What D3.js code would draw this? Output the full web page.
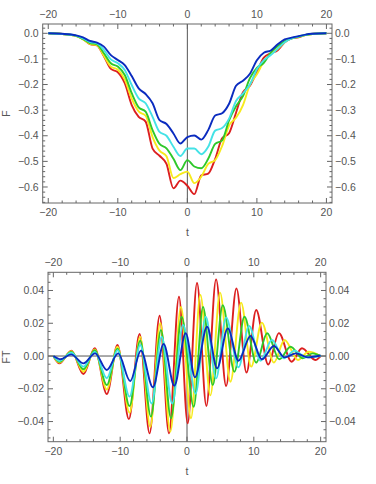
<!DOCTYPE html>
<html>
<head>
<meta charset="utf-8">
<script src="https://cdnjs.cloudflare.com/ajax/libs/d3/7.8.5/d3.min.js"></script>
<style>
  body { margin: 0; background: #fff; }
  svg { display: block; }
  text { font-family: "Liberation Sans", Arial, sans-serif; fill: #555; }
</style>
</head>
<body>
<script>
const width = 376, height = 484;

const seriesNames = ["red", "yellow", "green", "cyan", "blue"];
const colors = ["#dc1f1f", "#f7ea1c", "#2ec82a", "#44e2e6", "#0a2bbf"];

// ---- top panel: F(t), sampled at shared t values
const tTop = [-20, -18, -16, -15, -14, -13, -12, -11, -10, -9, -8, -7, -6, -5, -4, -3, -2, -1,
  0, 1, 2, 3, 4, 5, 6, 7, 8, 9, 10, 11, 12, 13, 14, 15, 16, 17, 18, 20];

const fRed = [0, -0.003, -0.010, -0.023, -0.042, -0.047, -0.090, -0.139, -0.152, -0.195, -0.280, -0.326, -0.345, -0.450, -0.478, -0.510, -0.605, -0.575,
  -0.595, -0.628, -0.555, -0.548, -0.490, -0.410, -0.390, -0.310, -0.230, -0.205, -0.150, -0.095, -0.078, -0.066, -0.035, -0.020, -0.016, -0.006, -0.002, 0];
const fYellow = [0, -0.003, -0.011, -0.024, -0.041, -0.046, -0.088, -0.130, -0.142, -0.180, -0.255, -0.305, -0.322, -0.405, -0.458, -0.480, -0.565, -0.550,
  -0.540, -0.585, -0.560, -0.510, -0.495, -0.440, -0.360, -0.330, -0.280, -0.200, -0.160, -0.110, -0.080, -0.060, -0.035, -0.020, -0.014, -0.007, -0.003, 0];
const fGreen = [0, -0.003, -0.010, -0.022, -0.038, -0.043, -0.078, -0.117, -0.130, -0.163, -0.234, -0.289, -0.306, -0.378, -0.432, -0.449, -0.490, -0.534,
  -0.495, -0.520, -0.527, -0.490, -0.432, -0.418, -0.340, -0.285, -0.245, -0.175, -0.135, -0.115, -0.075, -0.050, -0.030, -0.020, -0.013, -0.006, -0.003, 0];
const fCyan = [0, -0.003, -0.009, -0.020, -0.034, -0.039, -0.065, -0.102, -0.117, -0.143, -0.202, -0.254, -0.273, -0.326, -0.385, -0.400, -0.443, -0.479,
  -0.450, -0.450, -0.472, -0.443, -0.380, -0.370, -0.333, -0.264, -0.235, -0.200, -0.140, -0.105, -0.085, -0.060, -0.035, -0.020, -0.012, -0.006, -0.002, 0];
const fBlue = [0, -0.002, -0.008, -0.016, -0.030, -0.036, -0.052, -0.085, -0.104, -0.124, -0.167, -0.215, -0.237, -0.273, -0.339, -0.354, -0.391, -0.430,
  -0.405, -0.399, -0.415, -0.378, -0.321, -0.312, -0.275, -0.205, -0.185, -0.158, -0.105, -0.076, -0.067, -0.043, -0.024, -0.017, -0.011, -0.005, -0.002, 0];

// ---- bottom panel: FT(t), read at its turning points
const ftRedT = [-20, -19.1, -17.3, -15.5, -13.8, -12.0, -10.4, -8.7, -7.1, -5.6, -4.1, -2.7, -1.2, 0.1, 1.5, 2.9, 4.35, 5.85, 7.4, 8.9, 10.35, 12.15, 13.75, 15.65, 17.2, 19.2, 20];
const ftRedV = [0, -0.0045, 0.0033, -0.011, 0.0047, -0.0232, 0.0067, -0.0385, 0.0134, -0.0472, 0.0246, -0.0472, 0.0362, -0.0411, 0.0446, -0.0305, 0.0468, -0.0183, 0.0413, -0.0101, 0.0281, -0.0052, 0.014, -0.0035, 0.0047, -0.0024, 0];
const ftYellowT = [-20, -19.1, -17.3, -15.5, -13.8, -12.0, -10.4, -8.6, -7.0, -5.5, -4.0, -2.5, -0.9, 0.6, 2.0, 3.5, 4.95, 6.5, 8.1, 9.6, 11.2, 13.0, 14.6, 16.6, 18.2, 20];
const ftYellowV = [0, -0.004, 0.003, -0.0096, 0.004, -0.0204, 0.0057, -0.0346, 0.0118, -0.0432, 0.020, -0.0462, 0.030, -0.038, 0.0373, -0.024, 0.0387, -0.0157, 0.0326, -0.0065, 0.0204, -0.004, 0.0098, -0.0024, 0.0026, 0];
const ftGreenT = [-20, -19.1, -17.3, -15.5, -13.8, -12.0, -10.4, -8.6, -7.0, -5.4, -3.9, -2.4, -0.8, 1.0, 2.4, 3.85, 5.35, 7.1, 8.6, 10.35, 12.0, 13.8, 15.5, 17.3, 18.8, 20];
const ftGreenV = [0, -0.0035, 0.0025, -0.0081, 0.0035, -0.0177, 0.0045, -0.0305, 0.0094, -0.037, 0.0159, -0.038, 0.024, -0.031, 0.030, -0.0177, 0.031, -0.0096, 0.024, -0.004, 0.0139, -0.002, 0.0057, -0.0014, 0.0016, 0];
const ftCyanT = [-20, -19.1, -17.3, -15.5, -13.8, -12.0, -10.4, -8.6, -7.0, -5.3, -3.8, -2.2, -0.6, 1.3, 2.8, 4.35, 5.85, 7.7, 9.3, 11.0, 12.7, 14.5, 16.1, 17.8, 20];
const ftCyanV = [0, -0.003, 0.002, -0.0065, 0.0025, -0.0136, 0.0035, -0.0248, 0.0067, -0.029, 0.0118, -0.029, 0.019, -0.023, 0.024, -0.0136, 0.0236, -0.0069, 0.0183, -0.0029, 0.0098, -0.0014, 0.0033, -0.0008, 0];
const ftBlueT = [-20, -18.9, -17.35, -15.5, -13.75, -12.0, -10.3, -8.5, -6.9, -5.1, -3.5, -1.9, -0.2, 1.2, 3.0, 4.5, 6.1, 7.7, 9.5, 11.2, 13.0, 14.6, 16.3, 18.1, 20];
const ftBlueV = [0, -0.002, 0.001, -0.0045, 0.0016, -0.0085, 0.0016, -0.0153, 0.0033, -0.0191, 0.0073, -0.0181, 0.0139, -0.013, 0.0179, -0.0075, 0.0169, -0.0029, 0.0122, -0.002, 0.0061, -0.0008, 0.0016, -0.0008, 0.0003];

const xTicks = [-20, -10, 0, 10, 20];
const fTicks = [0, -0.1, -0.2, -0.3, -0.4, -0.5, -0.6];
const ftTicks = [0.04, 0.02, 0, -0.02, -0.04];

const minus = s => s.replace("-", "\u2212");

const svg = d3.select("body").append("svg")
  .attr("width", width)
  .attr("height", height);

function panel(o) {
  const x = d3.scaleLinear().domain(o.xDomain).range([o.left, o.right]);
  const y = d3.scaleLinear().domain(o.yDomain).range([o.bottom, o.top]);
  const g = svg.append("g");

  // axes through the origin
  g.append("line")
    .attr("x1", x(0)).attr("x2", x(0)).attr("y1", o.top).attr("y2", o.bottom)
    .attr("stroke", "#555").attr("stroke-width", 1);
  if (o.hAxis) {
    g.append("line")
      .attr("x1", o.left).attr("x2", o.right).attr("y1", y(0)).attr("y2", y(0))
      .attr("stroke", "#555").attr("stroke-width", 1);
  }

  const line = d3.line()
    .x(d => x(d[0]))
    .y(d => y(d[1]))
    .curve(o.curve);

  o.series.forEach((s, i) => {
    g.append("path")
      .datum(s)
      .attr("fill", "none")
      .attr("stroke", colors[i])
      .attr("stroke-width", 1.9)
      .attr("stroke-linejoin", "round")
      .attr("d", line);
  });

  // frame
  g.append("rect")
    .attr("x", o.left).attr("y", o.top)
    .attr("width", o.right - o.left).attr("height", o.bottom - o.top)
    .attr("fill", "none").attr("stroke", "#666").attr("stroke-width", 1);

  const fr = g.append("g").attr("stroke", "#666").attr("stroke-width", 1);
  const xMinor = d3.range(-20, 20.01, 2);
  xMinor.forEach(v => {
    const len = v % 10 === 0 ? 5 : 2.5;
    fr.append("line").attr("x1", x(v)).attr("x2", x(v)).attr("y1", o.bottom).attr("y2", o.bottom - len);
    fr.append("line").attr("x1", x(v)).attr("x2", x(v)).attr("y1", o.top).attr("y2", o.top + len);
  });
  o.yMinor.forEach(v => {
    const major = o.yTicks.some(t => Math.abs(t - v) < 1e-9);
    const len = major ? 5 : 2.5;
    fr.append("line").attr("x1", o.left).attr("x2", o.left + len).attr("y1", y(v)).attr("y2", y(v));
    fr.append("line").attr("x1", o.right).attr("x2", o.right - len).attr("y1", y(v)).attr("y2", y(v));
  });

  xTicks.forEach(v => {
    [o.top - 6, o.bottom + 13].forEach(yy => {
      g.append("text").attr("x", x(v)).attr("y", yy)
        .attr("text-anchor", "middle").attr("font-size", 10.5)
        .text(minus(String(v)));
    });
  });
  o.yTicks.forEach(v => {
    const s = minus(d3.format(o.fmt)(v === 0 ? 0 : v));
    g.append("text").attr("x", o.left - 4).attr("y", y(v)).attr("dy", "0.35em")
      .attr("text-anchor", "end").attr("font-size", 10.5).text(s);
    g.append("text").attr("x", o.right + 3).attr("y", y(v)).attr("dy", "0.35em")
      .attr("text-anchor", "start").attr("font-size", 10.5).text(s);
  });

  g.append("text").attr("x", x(0)).attr("y", o.bottom + 33)
    .attr("text-anchor", "middle").attr("font-size", 10.5).text("t");
  g.append("text")
    .attr("transform", `translate(10,${(o.top + o.bottom) / 2}) rotate(-90)`)
    .attr("text-anchor", "middle").attr("font-size", 10.5).text(o.yLabel);
}

const zip = (a, b) => a.map((v, i) => [v, b[i]]);

panel({
  left: 42.7, right: 332, top: 24, bottom: 203,
  xDomain: [-20.8, 20.8], yDomain: [-0.6625, 0.0363],
  yTicks: fTicks, yMinor: d3.range(-0.66, 0.03, 0.02).map(v => +v.toFixed(2)),
  fmt: ".1f", yLabel: "F", hAxis: false,
  curve: d3.curveMonotoneX,
  series: [fRed, fYellow, fGreen, fCyan, fBlue].map(vals => zip(tTop, vals))
});

panel({
  left: 48, right: 326, top: 272.3, bottom: 441.7,
  xDomain: [-20.8, 20.8], yDomain: [-0.0523, 0.0511],
  yTicks: ftTicks, yMinor: d3.range(-0.05, 0.051, 0.005).map(v => +v.toFixed(3)),
  fmt: ".2f", yLabel: "FT", hAxis: true,
  curve: d3.curveMonotoneX,
  series: [
    zip(ftRedT, ftRedV), zip(ftYellowT, ftYellowV), zip(ftGreenT, ftGreenV),
    zip(ftCyanT, ftCyanV), zip(ftBlueT, ftBlueV)
  ]
});
</script>
</body>
</html>
